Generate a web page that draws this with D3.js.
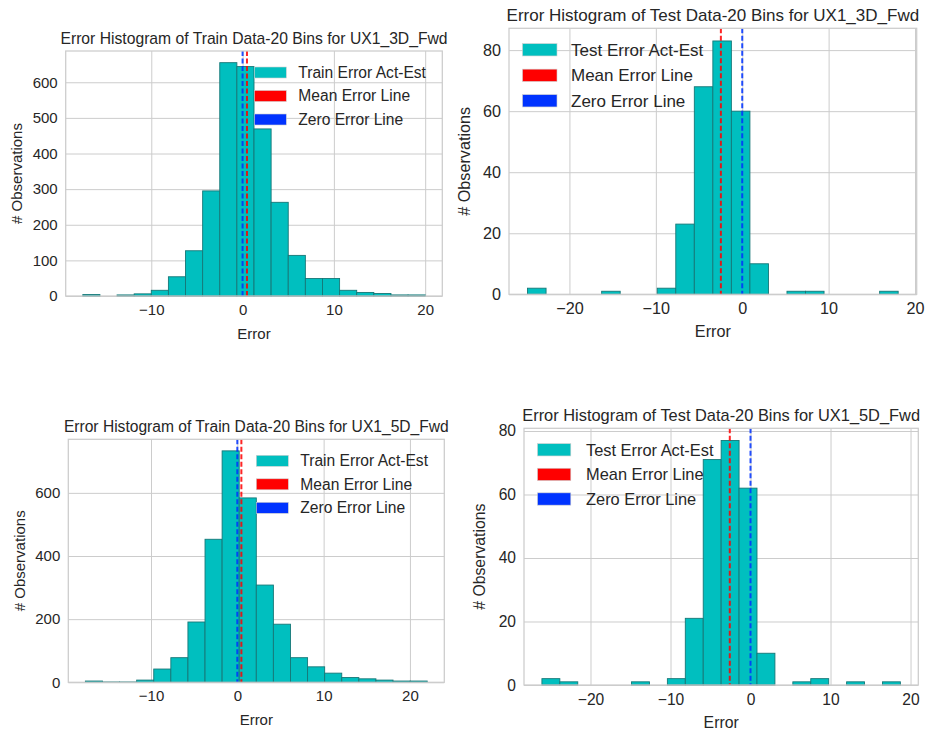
<!DOCTYPE html>
<html><head><meta charset="utf-8">
<script src="https://cdn.jsdelivr.net/npm/d3@7"></script>
<style>
body{margin:0;background:#fff}
text{font-family:"Liberation Sans",Arial,sans-serif;fill:#262626;font-size:15.5px}
</style>
</head><body><svg id="c" width="925" height="734"></svg>
<script>
// ---------- data ----------
const panelTitles = [
  "Error Histogram of Train Data-20 Bins for UX1_3D_Fwd",
  "Error Histogram of Test Data-20 Bins for UX1_3D_Fwd",
  "Error Histogram of Train Data-20 Bins for UX1_5D_Fwd",
  "Error Histogram of Test Data-20 Bins for UX1_5D_Fwd"
];
const trainLegend = ["Train Error Act-Est", "Mean Error Line", "Zero Error Line"];
const testLegend  = ["Test Error Act-Est", "Mean Error Line", "Zero Error Line"];

const train3DRange  = [-17.5, 20.0];
const train3DCounts = [4,0,3,6,16,54,127,295,655,644,469,263,114,49,49,16,10,7,3,3];
const train3DMean   = 0.48;

const test3DRange   = [-24.85, 18.05];
const test3DCounts  = [2,0,0,0,1,0,0,2,23,68,83,60,10,0,1,1,0,0,0,1];
const test3DMean    = -2.47;

const train5DRange  = [-17.6, 22.0];
const train5DCounts = [4,1,1,7,42,78,191,453,733,584,308,184,78,49,29,15,11,7,4,4];
const train5DMean   = 0.47;

const test5DRange   = [-26.07, 18.73];
const test5DCounts  = [2,1,0,0,0,1,0,2,21,71,77,62,10,0,1,2,0,1,0,1];
const test5DMean    = -2.59;

const xTicksTrain   = [-10, 0, 10, 20];
const xTicksTest    = [-20, -10, 0, 10, 20];
const yTicksTrain3D = [0, 100, 200, 300, 400, 500, 600];
const yTicksTest    = [0, 20, 40, 60, 80];
const yTicksTrain5D = [0, 200, 400, 600];
const zeroError     = 0;

const xLabel = "Error";
const yLabel = "# Observations";

// ---------- layout ----------
const panels = [
  {box:{l:65.7,r:442.3,t:51,b:296},   title:panelTitles[0], range:train3DRange, counts:train3DCounts, mean:train3DMean, xt:xTicksTrain, yt:yTicksTrain3D, legend:trainLegend, legPos:"right", yl:48.5,
   fs:{title:15.7, leg:15.6, tick:15, lab:15}, patch:{w:32, h:11, gap:23.5}},
  {box:{l:509,r:916.7,t:28.3,b:294.3}, title:panelTitles[1], range:test3DRange,  counts:test3DCounts,  mean:test3DMean,  xt:xTicksTest,  yt:yTicksTest,    legend:testLegend,  legPos:"left",  yl:44.5,
   fs:{title:17, leg:17, tick:16.2, lab:16.2}, patch:{w:34.5, h:12.3, gap:25.5}},
  {box:{l:68.3,r:444.3,t:439.3,b:682.3}, title:panelTitles[2], range:train5DRange, counts:train5DCounts, mean:train5DMean, xt:xTicksTrain, yt:yTicksTrain5D, legend:trainLegend, legPos:"right", yl:48.5,
   fs:{title:15.6, leg:15.6, tick:15, lab:15}, patch:{w:32, h:11, gap:23.5}},
  {box:{l:524,r:918.3,t:428.3,b:685},  title:panelTitles[3], range:test5DRange,  counts:test5DCounts,  mean:test5DMean,  xt:xTicksTest,  yt:yTicksTest,    legend:testLegend,  legPos:"left",  yl:44.5,
   fs:{title:16.4, leg:16.4, tick:15.6, lab:15.8}, patch:{w:33.3, h:12.3, gap:24.6}}
];

const svg = d3.select("#c");
const fmt = d => d < 0 ? "\u2212" + Math.abs(d) : String(d);
const gridColor = "#cccccc";
const barFill = "#00bfbf", barEdge = "#167777";
const meanColor = "#ff0000", zeroColor = "#0033ff";

panels.forEach(p => {
  const {l, r, t, b} = p.box;
  const w = r - l, h = b - t;
  const n = p.counts.length;
  const span = p.range[1] - p.range[0];
  const bw = span / n;
  const bins = p.counts.map((c, i) => ({x0: p.range[0] + i * bw, x1: p.range[0] + (i + 1) * bw, c}));
  const x = d3.scaleLinear().domain([p.range[0] - 0.05 * span, p.range[1] + 0.05 * span]).range([0, w]);
  const y = d3.scaleLinear().domain([0, d3.max(p.counts) * 1.05]).range([h, 0]);

  const g = svg.append("g").attr("transform", `translate(${l},${t})`);

  // grid + tick labels
  const gx = g.append("g").attr("transform", `translate(0,${h})`)
    .call(d3.axisBottom(x).tickValues(p.xt).tickSize(-h).tickPadding(8.5).tickFormat(fmt));
  const gy = g.append("g")
    .call(d3.axisLeft(y).tickValues(p.yt).tickSize(-w).tickPadding(8).tickFormat(fmt));
  [gx, gy].forEach(a => {
    a.select(".domain").remove();
    a.selectAll(".tick line").attr("stroke", gridColor).attr("stroke-width", 1);
    a.selectAll(".tick text").attr("fill", "#262626").style("font-size", p.fs.tick + "px")
      .style("font-family", '"Liberation Sans",Arial,sans-serif');
  });

  // bars
  g.selectAll("rect.bar").data(bins.filter(d => d.c > 0)).join("rect")
    .attr("class", "bar")
    .attr("x", d => x(d.x0)).attr("width", d => x(d.x1) - x(d.x0))
    .attr("y", d => y(d.c)).attr("height", d => y(0) - y(d.c))
    .attr("fill", barFill).attr("stroke", barEdge).attr("stroke-width", 0.9);

  // vertical lines
  [[p.mean, meanColor], [zeroError, zeroColor]].forEach(([v, col]) => {
    g.append("line").attr("x1", x(v)).attr("x2", x(v)).attr("y1", 0).attr("y2", h)
      .attr("stroke", col).attr("stroke-width", 2).attr("stroke-dasharray", "5,2.5").attr("opacity", 0.85);
  });

  // frame
  g.append("rect").attr("x", 0).attr("y", 0).attr("width", w).attr("height", h)
    .attr("fill", "none").attr("stroke", gridColor).attr("stroke-width", 1.25);

  // title & labels
  g.append("text").attr("x", w / 2).attr("y", -7).attr("text-anchor", "middle")
    .style("font-size", p.fs.title + "px").text(p.title);
  g.append("text").attr("x", w / 2).attr("y", h + 43).attr("text-anchor", "middle")
    .style("font-size", p.fs.lab + "px").text(xLabel);
  g.append("text").attr("transform", `translate(${-p.yl},${h / 2}) rotate(-90)`)
    .attr("text-anchor", "middle").attr("dy", "0.35em")
    .style("font-size", p.fs.lab + "px").text(yLabel);

  // legend
  const legCols = [barFill, meanColor, zeroColor];
  const px = p.legPos === "right" ? w - 188 : 13.5;
  const tx = p.legPos === "right" ? w - 144 : 62;
  p.legend.forEach((lab, i) => {
    const cy = 21.5 + i * p.patch.gap;
    g.append("rect").attr("x", px).attr("y", cy - p.patch.h / 2).attr("width", p.patch.w).attr("height", p.patch.h)
      .attr("fill", legCols[i]).attr("stroke", "#cfcfcf").attr("stroke-width", 0.6);
    g.append("text").attr("x", tx).attr("y", cy).attr("dy", "0.35em")
      .style("font-size", p.fs.leg + "px").text(lab);
  });
});
</script>
</body></html>
